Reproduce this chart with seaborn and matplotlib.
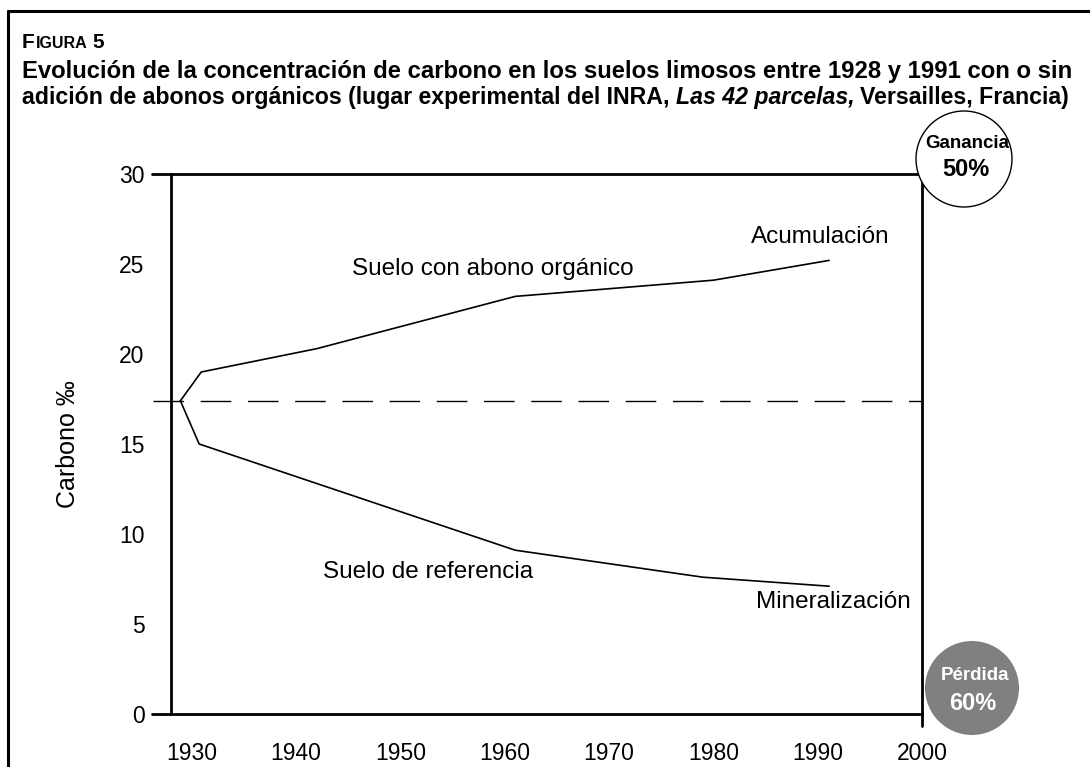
import pandas as pd
import matplotlib.pyplot as plt
import seaborn as sns
from matplotlib.lines import Line2D
from matplotlib.patches import Circle

# data
years_abono = [1928.9, 1930.9, 1942, 1961, 1980, 1991.1]
carbono_abono = [17.4, 19.0, 20.3, 23.2, 24.1, 25.2]
years_ref = [1928.9, 1930.7, 1961, 1979, 1991.1]
carbono_ref = [17.4, 15.0, 9.1, 7.6, 7.1]
nivel_inicial = 17.4
x_ticks = [1930, 1940, 1950, 1960, 1970, 1980, 1990, 2000]
y_ticks = [0, 5, 10, 15, 20, 25, 30]

df = pd.concat([
    pd.DataFrame({"anio": years_abono, "carbono": carbono_abono, "suelo": "abono"}),
    pd.DataFrame({"anio": years_ref, "carbono": carbono_ref, "suelo": "referencia"}),
])

sns.set_style("white")
plt.rcParams["font.family"] = ["Liberation Sans", "DejaVu Sans"]
plt.rcParams["text.color"] = "black"
plt.rcParams["axes.labelcolor"] = "black"

W, H = 1090, 767
fig = plt.figure(figsize=(10.9, 7.67), dpi=100)
ax = fig.add_axes([171 / W, 1 - 714 / H, (922 - 171) / W, (714 - 174) / H])

sns.lineplot(data=df, x="anio", y="carbono", units="suelo", estimator=None,
             sort=False, color="black", linewidth=1.2, ax=ax)
ax.plot([1926.3, 2000], [nivel_inicial, nivel_inicial], color="black",
        linewidth=1.0, dashes=(22, 12), clip_on=False)

ax.set_xlim(1928, 2000)
ax.set_ylim(0, 30)
ax.set_xticks(x_ticks)
ax.set_yticks(y_ticks)
ax.tick_params(axis="both", labelsize=16.5, colors="black", direction="out")
ax.tick_params(axis="x", length=11.5, width=1.0, pad=9)
ax.tick_params(axis="y", length=13, width=1.0, pad=6)
for s in ax.spines.values():
    s.set_color("black")
    s.set_linewidth(2.0)
ax.set_xlabel("")
ax.set_ylabel("Carbono ‰", fontsize=18, labelpad=28)
if ax.get_legend() is not None:
    ax.get_legend().remove()

# extend bottom/top lines to the left like the original
for yv in (0, 30):
    ax.add_line(Line2D([1926.2, 1928], [yv, yv], color="black", linewidth=2.0, clip_on=False))
ax.add_line(Line2D([2000, 2000], [0, -0.65], color="black", linewidth=2.0, clip_on=False))

lab = dict(fontsize=17.5, va="center")
ax.text(1945.4, 24.7, "Suelo con abono orgánico", **lab)
ax.text(1942.6, 7.9, "Suelo de referencia", **lab)
ax.text(1996.9, 26.5, "Acumulación", ha="right", **lab)
ax.text(1998.9, 6.2, "Mineralización", ha="right", **lab)

# circles
fig.patches.append(Circle((964, H - 159), 48, transform=None, facecolor="white",
                          edgecolor="black", linewidth=1.0, zorder=5))
fig.patches.append(Circle((972, H - 688), 47, transform=None, facecolor="#808080",
                          edgecolor="none", zorder=5))
fig.text(967 / W, 1 - 143 / H, "Ganancia", fontsize=13.5, weight="bold", ha="center", va="center", zorder=6)
fig.text(966 / W, 1 - 170 / H, "50%", fontsize=17, weight="bold", ha="center", va="center", zorder=6)
fig.text(975 / W, 1 - 675 / H, "Pérdida", fontsize=13.5, weight="bold", ha="center", va="center",
         color="white", zorder=6)
fig.text(973 / W, 1 - 703 / H, "60%", fontsize=17, weight="bold", ha="center", va="center",
         color="white", zorder=6)

# title
fa = fig.text(22 / W, 1 - 48 / H, "F", fontsize=15, weight="bold", va="baseline")
fig.canvas.draw()
x0 = fa.get_window_extent().x1
fb = fig.text((x0 + 1) / W, 1 - 48 / H, "IGURA", fontsize=11.5, weight="bold", va="baseline")
fig.canvas.draw()
x1 = fb.get_window_extent().x1
fig.text((x1 + 5) / W, 1 - 48 / H, "5", fontsize=15, weight="bold", va="baseline")
fig.text(22 / W, 1 - 78 / H,
         "Evolución de la concentración de carbono en los suelos limosos entre 1928 y 1991 con o sin",
         fontsize=17.2, weight="bold", va="baseline")
tfs2 = 16.7
t = fig.text(22 / W, 1 - 104 / H,
             "adición de abonos orgánicos (lugar experimental del INRA, ",
             fontsize=tfs2, weight="bold", va="baseline")
fig.canvas.draw()
bb = t.get_window_extent()
t2 = fig.text(bb.x1 / W, 1 - 104 / H, "Las 42 parcelas,", fontsize=tfs2, weight="bold",
              style="italic", va="baseline")
fig.canvas.draw()
bb2 = t2.get_window_extent()
fig.text((bb2.x1 + 6) / W, 1 - 104 / H, "Versailles, Francia)", fontsize=tfs2, weight="bold",
         va="baseline")

# figure frame (top and left)
fig.add_artist(Line2D([8 / W, 1.0], [1 - 11 / H, 1 - 11 / H], color="black", linewidth=2.2,
                      transform=fig.transFigure))
fig.add_artist(Line2D([8 / W, 8 / W], [0, 1 - 11 / H], color="black", linewidth=2.2,
                      transform=fig.transFigure))

fig.savefig("out.png", dpi=100)
